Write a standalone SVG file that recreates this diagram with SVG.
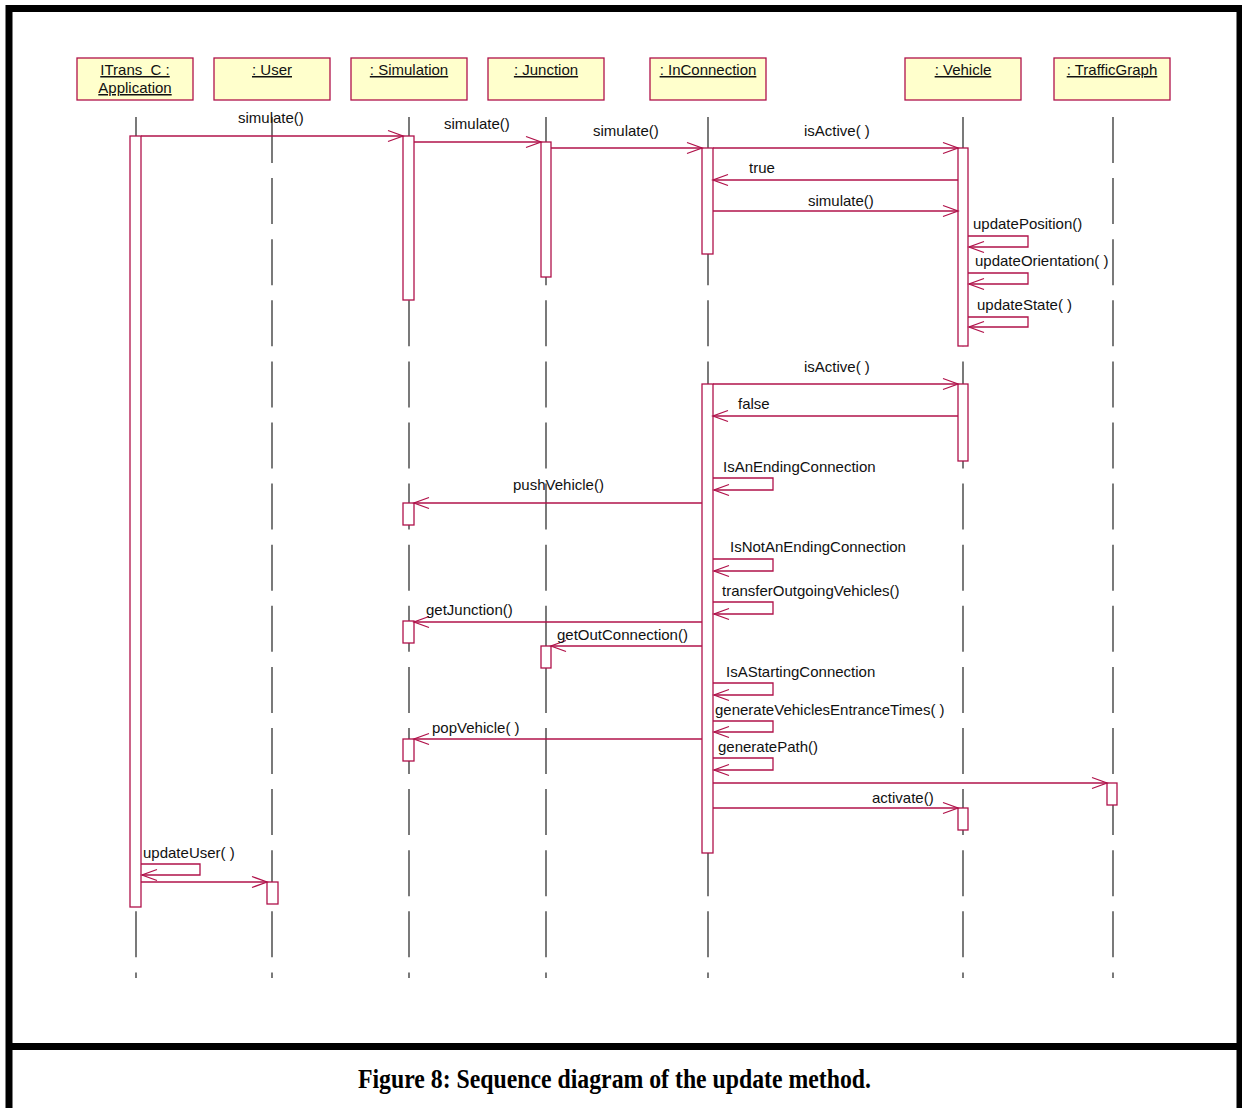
<svg xmlns="http://www.w3.org/2000/svg" width="1242" height="1108" viewBox="0 0 1242 1108">
  <style>
    .obj { fill: #ffffcc; stroke: #b0124a; stroke-width: 1.3; }
    .objtxt { font-family: "Liberation Sans", Arial, sans-serif; font-size: 15px; fill: #111; text-anchor: middle; text-decoration: underline; white-space: pre; }
    .life { stroke: #222; stroke-width: 1.2; stroke-dasharray: 46 15.1; fill: none; }
    .act { fill: #fff; stroke: #b0124a; stroke-width: 1.3; }
    .msg { stroke: #b0124a; stroke-width: 1.3; fill: none; marker-end: url(#open); }
    .lbl { font-family: "Liberation Sans", Arial, sans-serif; font-size: 15px; fill: #111; }
    .frame { stroke: #000; stroke-width: 7; fill: none; }
    .caption { font-family: "Liberation Serif", "Times New Roman", serif; font-size: 28px; font-weight: bold; fill: #000; text-anchor: middle; }
  </style>
  <defs>
    <marker id="open" markerUnits="userSpaceOnUse" viewBox="-16 -7 17 14" refX="0" refY="0" markerWidth="17" markerHeight="14" orient="auto" overflow="visible">
      <path d="M-15,-5.5 L0,0 L-15,5.5" fill="none" stroke="#b0124a" stroke-width="1.3"/>
    </marker>
  </defs>

  <rect width="1242" height="1108" fill="#fff"/>

  <!-- page frame and caption panel -->
  <path class="frame" d="M9,1108 V8.5 H1240 V1108 M9,1046.5 H1240"/>
  <text class="caption" x="614.5" y="1088" textLength="513" lengthAdjust="spacingAndGlyphs">Figure 8: Sequence diagram of the update method.</text>

  <!-- lifelines -->
  <g id="lifelines">
    <line class="life" x1="136" y1="117" x2="136" y2="978"/>
    <line class="life" x1="272" y1="117" x2="272" y2="978"/>
    <line class="life" x1="409" y1="117" x2="409" y2="978"/>
    <line class="life" x1="546" y1="117" x2="546" y2="978"/>
    <line class="life" x1="708" y1="117" x2="708" y2="978"/>
    <line class="life" x1="963" y1="117" x2="963" y2="978"/>
    <line class="life" x1="1113" y1="117" x2="1113" y2="978" stroke="#555"/>
  </g>

  <!-- objects -->
  <g id="app">
    <rect class="obj" x="77" y="58" width="116" height="42"/>
    <text class="objtxt" x="135" y="75" xml:space="preserve">ITrans  C :</text>
    <text class="objtxt" x="135" y="93">Application</text>
    <rect class="act" x="130" y="136" width="11" height="771"/>
  </g>
  <g id="user">
    <rect class="obj" x="214" y="58" width="116" height="42"/>
    <text class="objtxt" x="272" y="75">: User</text>
    <rect class="act" x="267" y="882" width="11" height="22"/>
  </g>
  <g id="simulation">
    <rect class="obj" x="351" y="58" width="116" height="42"/>
    <text class="objtxt" x="409" y="75">: Simulation</text>
    <rect class="act" x="403" y="136" width="11" height="164"/>
    <rect class="act" x="403" y="503" width="11" height="22"/>
    <rect class="act" x="403" y="621" width="11" height="22"/>
    <rect class="act" x="403" y="739" width="11" height="22"/>
  </g>
  <g id="junction">
    <rect class="obj" x="488" y="58" width="116" height="42"/>
    <text class="objtxt" x="546" y="75">: Junction</text>
    <rect class="act" x="541" y="142" width="10" height="135"/>
    <rect class="act" x="541" y="646" width="10" height="22"/>
  </g>
  <g id="inconnection">
    <rect class="obj" x="650" y="58" width="116" height="42"/>
    <text class="objtxt" x="708" y="75">: InConnection</text>
    <rect class="act" x="702" y="148" width="11" height="106"/>
    <rect class="act" x="702" y="384" width="11" height="469"/>
  </g>
  <g id="vehicle">
    <rect class="obj" x="905" y="58" width="116" height="42"/>
    <text class="objtxt" x="963" y="75">: Vehicle</text>
    <rect class="act" x="958" y="148" width="10" height="198"/>
    <rect class="act" x="958" y="384" width="10" height="77"/>
    <rect class="act" x="958" y="808" width="10" height="22"/>
  </g>
  <g id="trafficgraph">
    <rect class="obj" x="1054" y="58" width="116" height="42"/>
    <text class="objtxt" x="1112" y="75">: TrafficGraph</text>
    <rect class="act" x="1107" y="783" width="10" height="22"/>
  </g>

  <!-- messages -->
  <g id="messages">
    <line class="msg" x1="141" y1="136" x2="403" y2="136"/>
    <line class="msg" x1="414" y1="142" x2="541" y2="142"/>
    <line class="msg" x1="551" y1="148" x2="702" y2="148"/>
    <line class="msg" x1="713" y1="148" x2="958" y2="148"/>
    <line class="msg" x1="958" y1="180" x2="713" y2="180"/>
    <line class="msg" x1="713" y1="211" x2="958" y2="211"/>
    <path class="msg" d="M968,236 H1028 V247 H969"/>
    <path class="msg" d="M968,273 H1028 V284 H969"/>
    <path class="msg" d="M968,317 H1028 V327 H969"/>
    <line class="msg" x1="713" y1="384" x2="958" y2="384"/>
    <line class="msg" x1="958" y1="416" x2="713" y2="416"/>
    <path class="msg" d="M713,478 H773 V490 H714"/>
    <line class="msg" x1="702" y1="503" x2="414" y2="503"/>
    <path class="msg" d="M713,559 H773 V571 H714"/>
    <path class="msg" d="M713,602 H773 V614 H714"/>
    <line class="msg" x1="702" y1="622" x2="414" y2="622"/>
    <line class="msg" x1="702" y1="646" x2="551" y2="646"/>
    <path class="msg" d="M713,683 H773 V695 H714"/>
    <path class="msg" d="M713,721 H773 V732 H714"/>
    <line class="msg" x1="702" y1="739" x2="414" y2="739"/>
    <path class="msg" d="M713,758 H773 V770 H714"/>
    <line class="msg" x1="713" y1="783" x2="1107" y2="783"/>
    <line class="msg" x1="713" y1="808" x2="958" y2="808"/>
    <path class="msg" d="M141,864 H200 V875 H142"/>
    <line class="msg" x1="141" y1="882" x2="267" y2="882"/>
  </g>

  <!-- message labels -->
  <g id="labels">
    <text class="lbl" x="238" y="123">simulate()</text>
    <text class="lbl" x="444" y="129">simulate()</text>
    <text class="lbl" x="593" y="136">simulate()</text>
    <text class="lbl" x="804" y="136">isActive( )</text>
    <text class="lbl" x="749" y="173">true</text>
    <text class="lbl" x="808" y="206">simulate()</text>
    <text class="lbl" x="973" y="229">updatePosition()</text>
    <text class="lbl" x="975" y="266">updateOrientation( )</text>
    <text class="lbl" x="977" y="310">updateState( )</text>
    <text class="lbl" x="804" y="372">isActive( )</text>
    <text class="lbl" x="738" y="409">false</text>
    <text class="lbl" x="723" y="472">IsAnEndingConnection</text>
    <text class="lbl" x="513" y="490">pushVehicle()</text>
    <text class="lbl" x="730" y="552">IsNotAnEndingConnection</text>
    <text class="lbl" x="722" y="596">transferOutgoingVehicles()</text>
    <text class="lbl" x="426" y="615">getJunction()</text>
    <text class="lbl" x="557" y="640">getOutConnection()</text>
    <text class="lbl" x="726" y="677">IsAStartingConnection</text>
    <text class="lbl" x="715" y="715">generateVehiclesEntranceTimes( )</text>
    <text class="lbl" x="432" y="733">popVehicle( )</text>
    <text class="lbl" x="718" y="752">generatePath()</text>
    <text class="lbl" x="872" y="803">activate()</text>
    <text class="lbl" x="143" y="858">updateUser( )</text>
  </g>
</svg>
